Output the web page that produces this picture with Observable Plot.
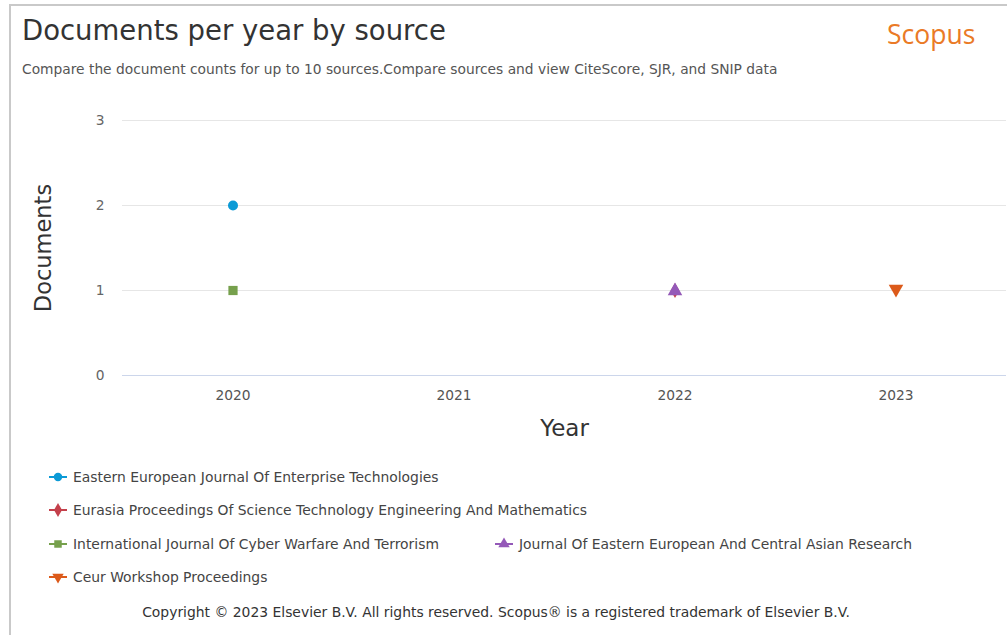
<!DOCTYPE html>
<html>
<head>
<meta charset="utf-8">
<script src="https://cdn.jsdelivr.net/npm/d3@7"></script>
<script src="https://cdn.jsdelivr.net/npm/@observablehq/plot@0.6"></script>
<style>
  html, body { margin: 0; padding: 0; background: #fff; }
  body { width: 1007px; height: 635px; overflow: hidden; position: relative; font-family: "DejaVu Sans", sans-serif; }
  #frame { position: absolute; left: 9px; top: 4px; width: 1100px; height: 700px;
           border-top: 2px solid #c9c9c9; border-left: 2px solid #c9c9c9; }
  #title { position: absolute; left: 22px; top: 14px; font-size: 27.5px; color: #333; white-space: nowrap; }
  #brand { position: absolute; left: 887px; top: 16px; font-size: 26.5px; color: #ea7a26; font-family: "Open Sans", sans-serif; }
  #subtitle { position: absolute; left: 22px; top: 61px; font-size: 13.8px; color: #555; white-space: nowrap; }
  #chart { position: absolute; left: 0; top: 100px; }
  #legend { position: absolute; left: 0; top: 0; }
  .item { position: absolute; font-size: 13.9px; color: #444; white-space: nowrap; display: flex; align-items: center; }
  .item svg { margin-right: 5px; }
  #copyright { position: absolute; left: 0; width: 992px; top: 604px; text-align: center; font-size: 13.9px; color: #333; }
</style>
</head>
<body>
<div id="frame"></div>
<div id="title">Documents per year by source</div>
<div id="brand">Scopus</div>
<div id="subtitle">Compare the document counts for up to 10 sources.Compare sources and view CiteScore, SJR, and SNIP data</div>
<div id="chart"></div>
<div id="legend"></div>
<div id="copyright">Copyright © 2023 Elsevier B.V. All rights reserved. Scopus® is a registered trademark of Elsevier B.V.</div>
<script>
// Years on the x axis
const years = ["2020", "2021", "2022", "2023"];
const yTicks = [0, 1, 2, 3];

// Sources, in legend order
const sources = [
  "Eastern European Journal Of Enterprise Technologies",
  "Eurasia Proceedings Of Science Technology Engineering And Mathematics",
  "International Journal Of Cyber Warfare And Terrorism",
  "Journal Of Eastern European And Central Asian Research",
  "Ceur Workshop Proceedings"
];

// Document counts per year (null = no documents that year)
const easternEuropeanJournal = [2, null, null, null];
const eurasiaProceedings     = [null, null, 1, null];
const cyberWarfareJournal    = [1, null, null, null];
const centralAsianResearch   = [null, null, 1, null];
const ceurWorkshop           = [null, null, null, 1];

const seriesValues = [easternEuropeanJournal, eurasiaProceedings, cyberWarfareJournal, centralAsianResearch, ceurWorkshop];
const colors  = ["#0b9ad6", "#c4404b", "#76a04c", "#9459b8", "#dc5a1a"];
const symbols = ["circle", "diamond", "square", "triangle", "triangle"];
const rotations = [0, 0, 0, 0, 180];
const radii = [5, 4.6, 5.2, 5.4, 5.4];

const rows = [];
sources.forEach((s, i) => {
  years.forEach((y, j) => {
    rows.push({ source: s, year: y, count: seriesValues[i][j], idx: i });
  });
});
const present = rows.filter(d => d.count != null);

const marks = [
  Plot.ruleY(yTicks.filter(t => t > 0), { stroke: "#e6e6e6", strokeWidth: 1 }),
  Plot.ruleY([0], { stroke: "#ccd6eb" }),
  Plot.axisY({ ticks: yTicks, tickFormat: "d", tickSize: 0, tickPadding: 18, fontSize: 13.8, color: "#666", label: null }),
  Plot.axisX({ tickSize: 0, tickPadding: 15, fontSize: 13.8, color: "#555", label: null }),
  Plot.text(["Documents"], { frameAnchor: "left", textAnchor: "middle", dx: -79, rotate: -90, fontSize: 22.5, fill: "#333" }),
  Plot.text(["Year"], { frameAnchor: "bottom", dy: 60, fontSize: 23, fill: "#333" }),
  Plot.line(rows, { x: "year", y: "count", z: "source", stroke: d => colors[d.idx], strokeWidth: 2 })
];
sources.forEach((s, i) => {
  marks.push(Plot.dot(present.filter(d => d.idx === i), {
    x: "year", y: "count", r: radii[i], fill: colors[i], stroke: "none",
    symbol: () => symbols[i], rotate: rotations[i],
    dy: rotations[i] === 180 ? -1.5 : (symbols[i] === "triangle" ? 0.5 : 0)
  }));
});

const chart = Plot.plot({
  width: 1007,
  height: 345,
  marginLeft: 122,
  marginRight: 1,
  marginTop: 20,
  marginBottom: 70,
  style: { fontFamily: "DejaVu Sans, sans-serif", background: "transparent", overflow: "visible" },
  x: { type: "band", domain: years, padding: 0 },
  y: { domain: [0, 3] },
  symbol: { type: "identity" },
  marks
});
document.getElementById("chart").appendChild(chart);

// Legend: line with marker, then source name
const legendPos = [
  [48, 477], [48, 510], [48, 544], [494, 544], [48, 577]
];
const legend = document.getElementById("legend");
sources.forEach((s, i) => {
  const item = document.createElement("div");
  item.className = "item";
  item.style.left = legendPos[i][0] + "px";
  item.style.top = (legendPos[i][1] - 9) + "px";
  const svg = d3.create("svg").attr("width", 20).attr("height", 18);
  svg.append("line").attr("x1", 1).attr("x2", 19).attr("y1", 9).attr("y2", 9)
    .attr("stroke", colors[i]).attr("stroke-width", 2);
  const sym = { circle: d3.symbolCircle, diamond: d3.symbolDiamond, square: d3.symbolSquare, triangle: d3.symbolTriangle }[symbols[i]];
  svg.append("path").attr("d", d3.symbol(sym, 56)())
    .attr("transform", `translate(10,9) rotate(${rotations[i]})`).attr("fill", colors[i]);
  item.appendChild(svg.node());
  const label = document.createElement("span");
  label.textContent = s;
  item.appendChild(label);
  legend.appendChild(item);
});
</script>
</body>
</html>
